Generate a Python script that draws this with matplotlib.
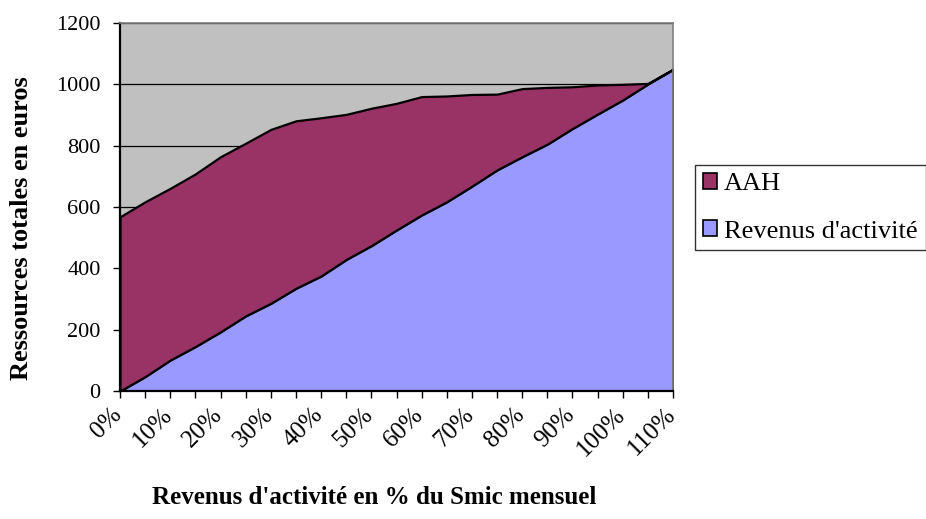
import matplotlib
matplotlib.use("Agg")
import matplotlib.pyplot as plt
from matplotlib.patches import Patch
from matplotlib.transforms import ScaledTranslation

# Share of the monthly Smic earned (5 % steps)
categories = [f"{p}%" for p in range(0, 115, 5)]

# Activity income (euros)
revenus = [0, 47, 101, 145, 193, 245, 286, 335, 375, 429, 474, 525,
           574, 617, 668, 721, 764, 805, 856, 903, 949, 1001, 1049]
# Total resources (euros): activity income + AAH
total = [568, 617, 661, 708, 764, 808, 853, 881, 891, 902, 922, 938,
         960, 962, 967, 968, 986, 990, 992, 998, 1000, 1003, 1049]
aah = [t - r for t, r in zip(total, revenus)]

series_names = ["AAH", "Revenus d'activité"]
col_aah = "#993366"
col_rev = "#9999FF"

plt.rcParams["font.family"] = ["Liberation Serif", "DejaVu Serif"]

fig = plt.figure(figsize=(9.26, 5.19), dpi=100)
ax = fig.add_axes([120 / 926, 1 - 391 / 519, (673 - 120) / 926, (391 - 23) / 519])
ax.set_facecolor("#C0C0C0")

x = list(range(len(categories)))
ax.stackplot(x, revenus, aah, colors=[col_rev, col_aah],
             edgecolor="black", linewidth=1.6, zorder=2)

ax.set_xlim(0, len(categories) - 1)
ax.set_ylim(0, 1200)
ax.set_yticks(range(0, 1201, 200))
ax.yaxis.grid(True, color="black", linewidth=0.9)
ax.set_axisbelow(True)

ax.set_xticks(x)
ax.set_xticklabels([c if i % 2 == 0 else "" for i, c in enumerate(categories)],
                   rotation=45, ha="right", va="top", rotation_mode="anchor")
ax.tick_params(axis="both", direction="out", length=5, width=1, color="black")
ax.tick_params(axis="x", pad=4, labelsize=18)
ax.tick_params(axis="y", pad=9, labelsize=16)
shift = ScaledTranslation(-9 / 100, 0, fig.dpi_scale_trans)
for lbl in ax.get_xticklabels():
    lbl.set_transform(lbl.get_transform() + shift)

for side in ("left", "bottom"):
    ax.spines[side].set_color("black")
    ax.spines[side].set_linewidth(1.6)
for side in ("top", "right"):
    ax.spines[side].set_color("#808080")
    ax.spines[side].set_linewidth(1.2)

ax.set_xlabel("Revenus d'activité en % du Smic mensuel", fontsize=18,
              fontweight="bold")
ax.set_ylabel("Ressources totales en euros", fontsize=19, fontweight="bold")
ax.xaxis.set_label_coords((374 - 120) / (673 - 120), -(497 - 391) / (391 - 23))
ax.yaxis.set_label_coords(-(120 - 21) / (673 - 120), (391 - 228) / (391 - 23))
ax.xaxis.label.set_va("center")
ax.yaxis.label.set_va("center")

handles = [Patch(facecolor=col_aah, edgecolor="black", linewidth=1.2),
           Patch(facecolor=col_rev, edgecolor="black", linewidth=1.2)]
leg = fig.legend(handles, series_names, loc="upper left",
                 bbox_to_anchor=(695 / 926, 1 - 165 / 519),
                 fontsize=19, frameon=True, fancybox=False, edgecolor="black",
                 handlelength=0.55, handleheight=0.55, handletextpad=0.25,
                 borderpad=0.3, labelspacing=0.95, borderaxespad=0)
leg.get_frame().set_linewidth(1.0)

fig.savefig("out.png", dpi=100)
